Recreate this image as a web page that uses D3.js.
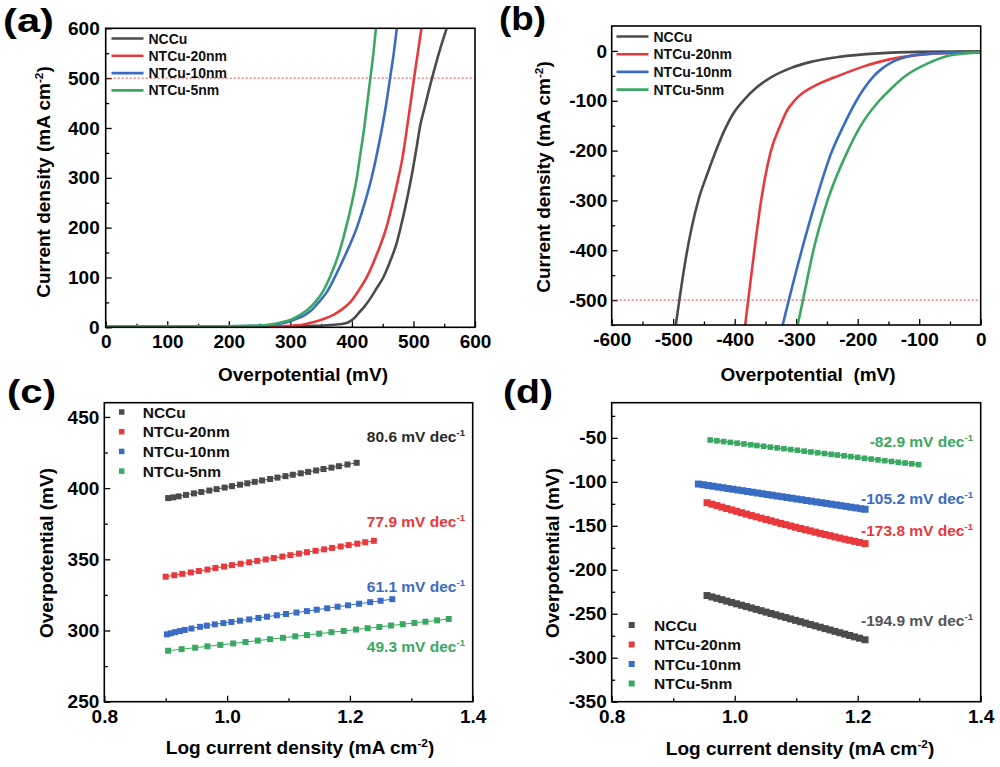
<!DOCTYPE html>
<html><head><meta charset="utf-8">
<script src="https://cdn.jsdelivr.net/npm/d3@7"></script>
<style>
html,body{margin:0;padding:0;background:#fff;}
svg{display:block;}
</style></head><body>
<svg id="chart" width="1000" height="767"></svg>
<script>
// ---------------- DATA ----------------
const seriesNames = ["NCCu", "NTCu-20nm", "NTCu-10nm", "NTCu-5nm"];
const seriesColors = ["#4b4b4b", "#e8393c", "#3a6cc4", "#3aa862"];

// (a) LSV, anodic: [overpotential mV, current density mA cm-2]
const lsvA_NCCu = [[0,2],[100,2],[200,2],[300,2],[340,3],[370,5],[390,8],[398,13],[405,20],[412,30],[420,41],[430,58],[440,78],[451,100],[462,132],[473,170],[482,215],[490,260],[498,310],[505,360],[511,405],[518,440],[527,485],[535,522],[545,565],[554,600]];
const lsvA_NTCu20 = [[0,2],[100,2],[200,2],[280,2],[300,3],[320,5],[337,10],[355,17],[370,25],[385,37],[397,50],[410,72],[424,100],[440,145],[456,200],[466,248],[475,297],[483,346],[489,396],[495,447],[501,500],[507,550],[513,600]];
const lsvA_NTCu10 = [[0,2],[100,2],[200,2],[250,3],[270,5],[294,10],[310,17],[324,25],[335,35],[346,50],[360,72],[372,100],[390,147],[408,200],[421,250],[432,300],[441,350],[449,400],[456,450],[462,500],[468,550],[473,600]];
const lsvA_NTCu5 = [[0,2],[100,2],[200,2],[240,3],[265,5],[286,10],[302,16],[316,25],[328,35],[340,50],[352,70],[364,100],[378,145],[390,198],[400,250],[408,300],[414,350],[420,400],[425,450],[430,500],[435,550],[439,600]];

// (b) LSV, cathodic
const lsvB_NCCu = [[-498,-570],[-490,-500],[-480,-420],[-470,-355],[-458,-295],[-444,-245],[-431,-202],[-418,-163],[-402,-125],[-384,-97],[-365,-74],[-341,-53],[-310,-35],[-276,-22],[-230,-12],[-167,-5],[-100,-2],[0,-1]];
const lsvB_NTCu20 = [[-385,-570],[-378,-500],[-368,-400],[-357,-300],[-341,-200],[-326,-150],[-315,-120],[-303,-100],[-290,-85],[-276,-74],[-260,-64],[-240,-54],[-215,-42],[-190,-31],[-165,-22],[-140,-15],[-113,-10],[-70,-5],[0,-3]];
const lsvB_NTCu10 = [[-326,-570],[-312,-500],[-291,-400],[-268,-300],[-243,-205],[-223,-150],[-204,-104],[-190,-76],[-175,-52],[-160,-35],[-140,-20],[-119,-11],[-90,-6],[-50,-4],[0,-3]];
const lsvB_NTCu5 = [[-301,-570],[-289,-500],[-272,-400],[-249,-300],[-216,-200],[-195,-150],[-165,-100],[-145,-75],[-122,-50],[-86,-25],[-54,-10],[-25,-5],[0,-3]];

// (c) Tafel, anodic
const tafelC_NCCu_x = [0.904,0.912,0.921,0.933,0.946,0.958,0.971,0.983,0.996,1.008,1.021,1.033,1.045,1.057,1.070,1.082,1.095,1.107,1.120,1.132,1.145,1.157,1.170,1.182,1.196,1.211];
const tafelC_NCCu_y = [393.0,393.5,394.2,395.2,396.3,397.3,398.3,399.3,400.4,401.4,402.4,403.4,404.4,405.4,406.4,407.4,408.4,409.4,410.4,411.4,412.4,413.4,414.4,415.4,416.6,417.8];
const tafelC_NTCu20_x = [0.900,0.914,0.927,0.941,0.954,0.968,0.981,0.995,1.008,1.022,1.036,1.049,1.063,1.076,1.090,1.103,1.117,1.130,1.144,1.158,1.171,1.185,1.198,1.212,1.225,1.239];
const tafelC_NTCu20_y = [337.8,338.8,339.8,340.8,341.8,342.8,343.9,344.9,345.9,346.9,347.9,348.9,349.9,350.9,351.9,352.9,354.0,355.0,356.0,357.0,358.0,359.0,360.0,361.0,362.0,363.0];
const tafelC_NTCu10_x = [0.902,0.908,0.915,0.923,0.931,0.942,0.956,0.967,0.980,0.994,1.007,1.021,1.036,1.051,1.065,1.081,1.096,1.113,1.130,1.146,1.163,1.180,1.197,1.215,1.233,1.250,1.269];
const tafelC_NTCu10_y = [297.3,298.0,298.8,299.6,300.4,301.4,302.6,303.4,304.3,305.2,306.0,306.9,307.8,308.8,309.7,310.7,311.6,312.6,313.6,314.6,315.6,316.7,317.7,318.8,319.9,320.9,322.0];
const tafelC_NTCu5_x = [0.904,0.926,0.948,0.968,0.989,1.010,1.030,1.050,1.070,1.091,1.111,1.130,1.150,1.170,1.190,1.210,1.229,1.248,1.267,1.286,1.305,1.323,1.342,1.361];
const tafelC_NTCu5_y = [285.8,286.9,287.9,288.9,289.9,290.9,291.9,292.9,293.9,294.9,295.9,296.8,297.8,298.8,299.7,300.7,301.6,302.5,303.5,304.4,305.3,306.2,307.1,308.1];

// (d) Tafel, cathodic
const tafelD_x = [0.955,0.963,0.971,0.979,0.987,0.995,1.003,1.011,1.019,1.027,1.035,1.043,1.051,1.059,1.067,1.075,1.083,1.091,1.099,1.107,1.115,1.123,1.131,1.139,1.147,1.155,1.163,1.171,1.179,1.187,1.195,1.203,1.212];
const tafelD_NCCu_y = [-229.3,-230.9,-232.4,-234.0,-235.6,-237.1,-238.7,-240.3,-241.8,-243.4,-245.0,-246.5,-248.1,-249.7,-251.2,-252.8,-254.3,-255.9,-257.5,-259.0,-260.6,-262.2,-263.7,-265.3,-266.9,-268.4,-270.0,-271.6,-273.1,-274.7,-276.3,-277.8,-279.6];
const tafelD_NTCu20_y = [-123.7,-125.4,-127.0,-128.7,-130.3,-131.9,-133.5,-135.1,-136.7,-138.2,-139.8,-141.3,-142.8,-144.3,-145.8,-147.3,-148.7,-150.2,-151.6,-153.0,-154.4,-155.8,-157.2,-158.6,-159.9,-161.2,-162.6,-163.9,-165.2,-166.4,-167.7,-168.9,-170.3];
const tafelD_NTCu10_x = [0.941,0.949,0.957,0.965,0.973,0.981,0.989,0.997,1.005,1.013,1.021,1.029,1.037,1.045,1.053,1.061,1.069,1.077,1.085,1.093,1.101,1.109,1.117,1.125,1.133,1.141,1.149,1.157,1.165,1.173,1.181,1.189,1.197,1.205,1.212];
const tafelD_NTCu10_y = [-102.5,-103.3,-104.2,-105.0,-105.9,-106.7,-107.6,-108.4,-109.3,-110.1,-111.0,-111.8,-112.7,-113.5,-114.4,-115.2,-116.1,-116.9,-117.8,-118.6,-119.5,-120.3,-121.2,-122.0,-122.9,-123.7,-124.5,-125.4,-126.2,-127.1,-127.9,-128.8,-129.6,-130.5,-131.2];
const tafelD_NTCu5_x = [0.960,0.971,0.982,0.993,1.004,1.015,1.026,1.036,1.047,1.058,1.069,1.080,1.091,1.102,1.113,1.124,1.135,1.146,1.157,1.167,1.178,1.189,1.200,1.211,1.222,1.233,1.244,1.255,1.266,1.277,1.288,1.299];
const tafelD_NTCu5_y = [-52.4,-53.3,-54.2,-55.1,-56.0,-56.9,-57.9,-58.7,-59.6,-60.5,-61.4,-62.3,-63.2,-64.1,-65.1,-66.0,-66.9,-67.8,-68.7,-69.5,-70.4,-71.3,-72.2,-73.2,-74.1,-75.0,-75.9,-76.8,-77.7,-78.6,-79.5,-80.4];

const tafelC_slopes = ["80.6 mV dec", "77.9 mV dec", "61.1 mV dec", "49.3 mV dec"];
const tafelD_slopes = ["-194.9 mV dec", "-173.8 mV dec", "-105.2 mV dec", "-82.9 mV dec"];
const slopeTextColors = ["#2a2a2a", "#e8393c", "#3a6cc4", "#3aa862"];
const slopeTextColorsD = ["#555555", "#e8393c", "#3a6cc4", "#3aa862"];

// tick values
const ticksA_x = [0,100,200,300,400,500,600], ticksA_xMinor = [50,150,250,350,450,550];
const ticksA_y = [0,100,200,300,400,500,600], ticksA_yMinor = [50,150,250,350,450,550];
const ticksB_x = [-600,-500,-400,-300,-200,-100,0], ticksB_xMinor = [-550,-450,-350,-250,-150,-50];
const ticksB_y = [-500,-400,-300,-200,-100,0], ticksB_yMinor = [-550,-450,-350,-250,-150,-50];
const ticksCD_x = [0.8,1.0,1.2,1.4], ticksCD_xMinor = [0.9,1.1,1.3];
const ticksC_y = [250,300,350,400,450], ticksC_yMinor = [275,325,375,425];
const ticksD_y = [-350,-300,-250,-200,-150,-100,-50], ticksD_yMinor = [-325,-275,-225,-175,-125,-75,-25];

// ---------------- DRAWING ----------------
const FONT = '"Liberation Sans", Arial, Helvetica, sans-serif';
const svg = d3.select("#chart");
svg.append("rect").attr("width",1000).attr("height",767).attr("fill","#fff");

function styleAxis(g, labelled) {
  g.select(".domain").remove();
  g.selectAll("line").attr("stroke","#000").attr("stroke-width",1.3);
  if (labelled) g.selectAll("text").attr("font-family",FONT).attr("font-size",19)
      .attr("font-weight","bold").attr("fill","#000");
}

function supText(parent, x, y, base, sup, tail, opts) {
  const t = parent.append("text").attr("x",x).attr("y",y)
    .attr("font-family",FONT).attr("font-weight","bold")
    .attr("font-size",opts.size).attr("fill",opts.color || "#000")
    .attr("text-anchor",opts.anchor || "start");
  if (opts.transform) t.attr("transform",opts.transform);
  t.append("tspan").text(base);
  t.append("tspan").attr("dy",-opts.size*0.38).attr("font-size",opts.size*0.62).text(sup);
  if (tail) t.append("tspan").attr("dy",opts.size*0.38).text(tail);
  return t;
}

function panel(p) {
  const x = d3.scaleLinear().domain(p.xDomain).range([p.left, p.right]);
  const y = d3.scaleLinear().domain(p.yDomain).range([p.bottom, p.top]);
  const g = svg.append("g");
  const clipId = "clip-" + p.id;
  svg.append("clipPath").attr("id",clipId).append("rect")
    .attr("x",p.left).attr("y",p.top).attr("width",p.right-p.left).attr("height",p.bottom-p.top);

  g.append("g").attr("transform",`translate(0,${p.bottom})`)
    .call(d3.axisBottom(x).tickValues(p.xMinor).tickSize(-3.5).tickFormat(""))
    .call(a => styleAxis(a,false));
  g.append("g").attr("transform",`translate(0,${p.bottom})`)
    .call(d3.axisBottom(x).tickValues(p.xTicks).tickSize(-6).tickPadding(p.xPad).tickFormat(p.xFmt))
    .call(a => styleAxis(a,true));
  g.append("g").attr("transform",`translate(${p.left},0)`)
    .call(d3.axisLeft(y).tickValues(p.yMinor).tickSize(-3.5).tickFormat(""))
    .call(a => styleAxis(a,false));
  g.append("g").attr("transform",`translate(${p.left},0)`)
    .call(d3.axisLeft(y).tickValues(p.yTicks).tickSize(-6).tickPadding(p.yPad).tickFormat(d => String(d)))
    .call(a => styleAxis(a,true));

  const plot = g.append("g").attr("clip-path",`url(#${clipId})`);
  p.draw(plot, x, y);

  g.append("rect").attr("x",p.left).attr("y",p.top)
    .attr("width",p.right-p.left).attr("height",p.bottom-p.top)
    .attr("fill","none").attr("stroke","#000").attr("stroke-width",1.6);

  const xt = p.xTitle;
  if (xt.sup) supText(g, xt.x, xt.y, xt.text, xt.sup, ")", {size:19, anchor:"middle"});
  else g.append("text").attr("x",xt.x).attr("y",xt.y).attr("text-anchor","middle")
    .attr("font-family",FONT).attr("font-weight","bold").attr("font-size",19)
    .attr("xml:space","preserve").style("white-space","pre").text(xt.text);
  const yt = p.yTitle;
  if (yt.sup) supText(g, 0, 0, yt.text, yt.sup, ")", {size:19, anchor:"middle", transform:`translate(${yt.x},${yt.y}) rotate(-90)`});
  else g.append("text").attr("transform",`translate(${yt.x},${yt.y}) rotate(-90)`).attr("text-anchor","middle")
    .attr("font-family",FONT).attr("font-weight","bold").attr("font-size",19).text(yt.text);

  g.append("text").attr("x",p.label.x).attr("y",p.label.y)
    .attr("font-family",FONT).attr("font-weight","bold").attr("font-size",33)
    .attr("textLength",p.label.w).attr("lengthAdjust","spacingAndGlyphs").text(p.label.text);
  return {g, x, y};
}

const lineGen = (x, y) => d3.line().x(d => x(d[0])).y(d => y(d[1])).curve(d3.curveMonotoneX);

function lineLegend(g, lx, ly, dy) {
  seriesNames.forEach((name, i) => {
    const yy = ly + i*dy;
    g.append("line").attr("x1",lx).attr("x2",lx+32).attr("y1",yy).attr("y2",yy)
      .attr("stroke",seriesColors[i]).attr("stroke-width",2.6);
    g.append("text").attr("x",lx+37).attr("y",yy+5).attr("font-family",FONT)
      .attr("font-weight","bold").attr("font-size",14).attr("fill","#111").text(name);
  });
}
function squareLegend(g, order, sx, tx, ly, dy, size) {
  order.forEach((i, k) => {
    const yy = ly + k*dy;
    g.append("rect").attr("x",sx-size/2).attr("y",yy-size/2).attr("width",size).attr("height",size)
      .attr("fill",seriesColors[i]);
    g.append("text").attr("x",tx).attr("y",yy+5.5).attr("font-family",FONT)
      .attr("font-weight","bold").attr("font-size",15.5).attr("fill","#111").text(seriesNames[i]);
  });
}

// ---- (a)
const lsvA = [lsvA_NCCu, lsvA_NTCu20, lsvA_NTCu10, lsvA_NTCu5];
const pa = panel({
  id:"a", left:105.7, right:475, top:28.3, bottom:327.3,
  xDomain:[0,600], yDomain:[0,600],
  xTicks:ticksA_x, xMinor:ticksA_xMinor, yTicks:ticksA_y, yMinor:ticksA_yMinor,
  xPad:7, yPad:6, xFmt:d => String(d),
  xTitle:{x:303, y:381, text:"Overpotential (mV)"},
  yTitle:{x:50, y:182, text:"Current density (mA cm", sup:"-2"},
  label:{x:3, y:32, text:"(a)", w:51},
  draw:(plot, x, y) => {
    plot.append("line").attr("x1",x(0)).attr("x2",x(600)).attr("y1",y(500)).attr("y2",y(500))
      .attr("stroke","#e0484c").attr("stroke-width",1).attr("stroke-dasharray","2,2");
    [0,1,2,3].forEach(i => plot.append("path").datum(lsvA[i]).attr("d",lineGen(x,y))
      .attr("fill","none").attr("stroke",seriesColors[i]).attr("stroke-width",2.6));
  }
});
lineLegend(pa.g, 111.5, 38.5, 17.3);

// ---- (b)
const lsvB = [lsvB_NCCu, lsvB_NTCu20, lsvB_NTCu10, lsvB_NTCu5];
const pb = panel({
  id:"b", left:611.7, right:980.7, top:26, bottom:325,
  xDomain:[-600,0], yDomain:[-550,50],
  xTicks:ticksB_x, xMinor:ticksB_xMinor, yTicks:ticksB_y, yMinor:ticksB_yMinor,
  xPad:8, yPad:4.5, xFmt:d => String(d),
  xTitle:{x:808, y:381, text:"Overpotential  (mV)"},
  yTitle:{x:550, y:177, text:"Current density (mA cm", sup:"-2"},
  label:{x:499, y:30, text:"(b)", w:47},
  draw:(plot, x, y) => {
    plot.append("line").attr("x1",x(-600)).attr("x2",x(0)).attr("y1",y(-500)).attr("y2",y(-500))
      .attr("stroke","#e0484c").attr("stroke-width",1).attr("stroke-dasharray","2,2");
    [0,1,2,3].forEach(i => plot.append("path").datum(lsvB[i]).attr("d",lineGen(x,y))
      .attr("fill","none").attr("stroke",seriesColors[i]).attr("stroke-width",2.6));
  }
});
lineLegend(pb.g, 616.5, 36.5, 17.7);

// ---- (c)
const tafelC = [
  d3.zip(tafelC_NCCu_x, tafelC_NCCu_y), d3.zip(tafelC_NTCu20_x, tafelC_NTCu20_y),
  d3.zip(tafelC_NTCu10_x, tafelC_NTCu10_y), d3.zip(tafelC_NTCu5_x, tafelC_NTCu5_y)];
const pc = panel({
  id:"c", left:104.3, right:472.7, top:402.7, bottom:701.7,
  xDomain:[0.8,1.4], yDomain:[250,460],
  xTicks:ticksCD_x, xMinor:ticksCD_xMinor, yTicks:ticksC_y, yMinor:ticksC_yMinor,
  xPad:8, yPad:5, xFmt:d3.format(".1f"),
  xTitle:{x:300, y:754, text:"Log current density (mA cm", sup:"-2"},
  yTitle:{x:53, y:553, text:"Overpotential (mV)"},
  label:{x:7, y:403, text:"(c)", w:49},
  draw:(plot, x, y) => {
    [0,1,2,3].forEach(i => {
      plot.append("path").datum(tafelC[i]).attr("d",d3.line().x(d=>x(d[0])).y(d=>y(d[1])))
        .attr("fill","none").attr("stroke",seriesColors[i]).attr("stroke-width",1);
      plot.selectAll(null).data(tafelC[i]).enter().append("rect")
        .attr("x",d=>x(d[0])-3).attr("y",d=>y(d[1])-3).attr("width",6).attr("height",6)
        .attr("fill",seriesColors[i]);
    });
  }
});
squareLegend(pc.g, [0,1,2,3], 121.7, 142.7, 412, 19.7, 5.5);
const cLabelY = [441.7, 526.7, 591.7, 651.7];
tafelC_slopes.forEach((s, i) => supText(pc.g, 465, cLabelY[i], s, "-1", null,
  {size:15.5, anchor:"end", color:slopeTextColors[i]}));

// ---- (d)
const tafelD = [
  d3.zip(tafelD_x, tafelD_NCCu_y), d3.zip(tafelD_x, tafelD_NTCu20_y),
  d3.zip(tafelD_NTCu10_x, tafelD_NTCu10_y), d3.zip(tafelD_NTCu5_x, tafelD_NTCu5_y)];
const squareSizeD = [7, 7, 7, 5.6];
const pd = panel({
  id:"d", left:611.7, right:980.7, top:402.7, bottom:701.7,
  xDomain:[0.8,1.4], yDomain:[-350,-10],
  xTicks:ticksCD_x, xMinor:ticksCD_xMinor, yTicks:ticksD_y, yMinor:ticksD_yMinor,
  xPad:8, yPad:5, xFmt:d3.format(".1f"),
  xTitle:{x:800, y:755, text:"Log current density (mA cm", sup:"-2"},
  yTitle:{x:559, y:553, text:"Overpotential (mV)"},
  label:{x:503, y:403, text:"(d)", w:50},
  draw:(plot, x, y) => {
    [0,1,2,3].forEach(i => {
      const s = squareSizeD[i];
      plot.append("path").datum(tafelD[i]).attr("d",d3.line().x(d=>x(d[0])).y(d=>y(d[1])))
        .attr("fill","none").attr("stroke",seriesColors[i]).attr("stroke-width", i < 3 ? 5 : 1.5);
      plot.selectAll(null).data(tafelD[i]).enter().append("rect")
        .attr("x",d=>x(d[0])-s/2).attr("y",d=>y(d[1])-s/2).attr("width",s).attr("height",s)
        .attr("fill",seriesColors[i]);
    });
  }
});
squareLegend(pd.g, [0,1,2,3], 631.7, 654, 625, 19.5, 6);
const dLabelY = [626, 535.7, 504, 446.7];
tafelD_slopes.forEach((s, i) => supText(pd.g, 973, dLabelY[i], s, "-1", null,
  {size:15.5, anchor:"end", color:slopeTextColorsD[i]}));
</script>
</body></html>
